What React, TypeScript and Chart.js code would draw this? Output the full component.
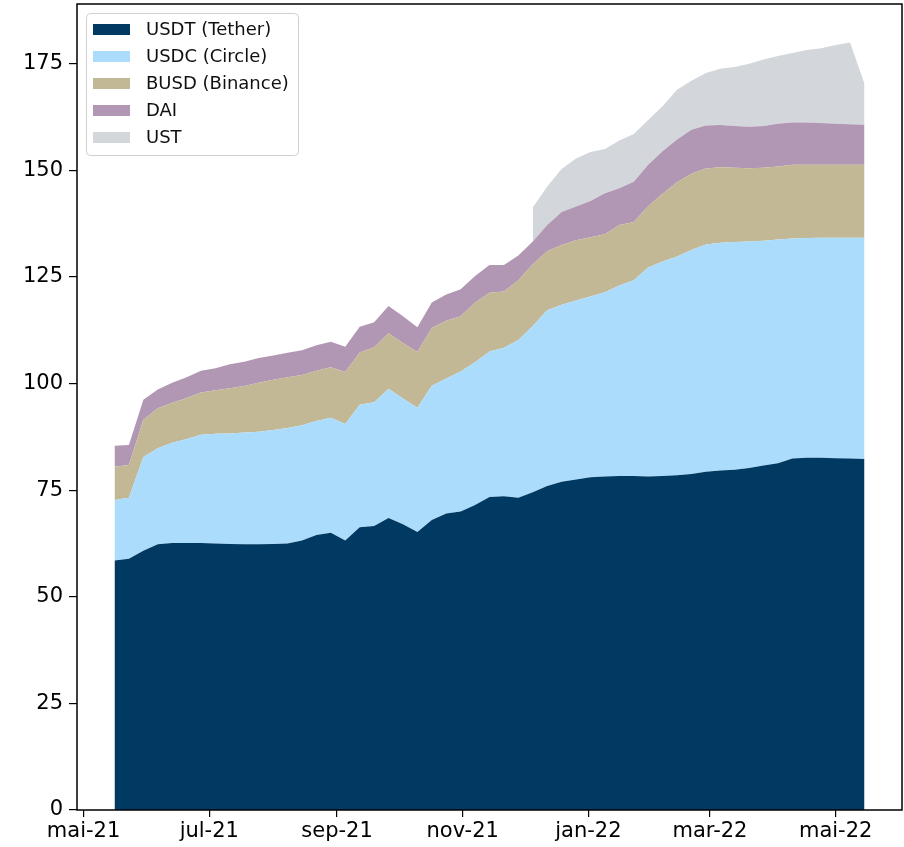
import React, { useEffect, useRef } from 'react';
import { Chart, registerables } from 'chart.js';

Chart.register(...registerables);

// Weekly observation dates
const dates = [
  '2021-05-16', '2021-05-23', '2021-05-30', '2021-06-06', '2021-06-13', '2021-06-20', '2021-06-27',
  '2021-07-04', '2021-07-11', '2021-07-18', '2021-07-25', '2021-08-01', '2021-08-08', '2021-08-15',
  '2021-08-22', '2021-08-29', '2021-09-05', '2021-09-12', '2021-09-19', '2021-09-26', '2021-10-03',
  '2021-10-10', '2021-10-17', '2021-10-24', '2021-10-31', '2021-11-07', '2021-11-14', '2021-11-21',
  '2021-11-28', '2021-12-05', '2021-12-12', '2021-12-19', '2021-12-26', '2022-01-02', '2022-01-09',
  '2022-01-16', '2022-01-23', '2022-01-30', '2022-02-06', '2022-02-13', '2022-02-20', '2022-02-27',
  '2022-03-06', '2022-03-13', '2022-03-20', '2022-03-27', '2022-04-03', '2022-04-10', '2022-04-17',
  '2022-04-24', '2022-05-01', '2022-05-08', '2022-05-15',
];

const usdt = [
  58.5, 58.9, 60.8, 62.3, 62.6, 62.6, 62.6, 62.5, 62.4, 62.3, 62.3, 62.4, 62.5,
  63.2, 64.5, 65.0, 63.2, 66.3, 66.6, 68.5, 67.0, 65.2, 68.0, 69.5, 70.0, 71.5, 73.4, 73.6, 73.2,
  74.5, 76.0, 77.0, 77.5, 78.0, 78.2, 78.3, 78.3, 78.2, 78.3, 78.5, 78.8, 79.3, 79.6, 79.8, 80.2,
  80.8, 81.3, 82.4, 82.6, 82.6, 82.5, 82.4, 82.3,
];

const usdc = [
  14.2, 14.3, 22.0, 22.5, 23.5, 24.4, 25.4, 25.7, 25.9, 26.2, 26.4, 26.7, 27.1,
  27.0, 26.7, 27.0, 27.3, 28.7, 29.0, 30.3, 29.5, 29.1, 31.5, 31.7, 32.8, 33.5, 34.1, 34.8, 37.0,
  39.0, 41.2, 41.5, 42.0, 42.4, 43.2, 44.7, 45.9, 49.0, 50.3, 51.3, 52.5, 53.3, 53.4, 53.4, 53.1,
  52.7, 52.5, 51.6, 51.5, 51.6, 51.7, 51.8, 51.9,
];

const busd = [
  7.8, 7.7, 8.7, 9.4, 9.4, 9.6, 9.9, 10.2, 10.6, 10.9, 11.5, 11.8, 11.9,
  11.8, 11.8, 11.8, 12.2, 12.3, 12.9, 13.0, 13.0, 13.1, 13.5, 13.5, 13.0, 14.0, 13.8, 13.2, 14.0,
  14.5, 13.8, 14.0, 14.1, 13.9, 13.6, 14.2, 13.7, 14.4, 15.9, 17.4, 17.9, 17.8, 17.7, 17.4, 17.2,
  17.1, 17.1, 17.3, 17.2, 17.1, 17.1, 17.1, 17.1,
];

const dai = [
  4.9, 4.7, 4.7, 4.4, 4.7, 4.9, 5.1, 5.2, 5.6, 5.7, 5.8, 5.7, 5.7,
  5.8, 6.0, 6.0, 5.9, 6.0, 5.9, 6.4, 6.3, 5.8, 6.0, 6.2, 6.3, 6.2, 6.5, 6.2, 5.8,
  5.3, 6.2, 7.7, 7.9, 8.5, 9.6, 8.6, 9.4, 9.7, 10.0, 10.0, 10.3, 10.1, 9.9, 9.8, 9.7,
  9.8, 10.0, 9.9, 9.9, 9.8, 9.6, 9.5, 9.4,
];

const ust = [
  null, null, null, null, null, null, null, null, null, null, null, null, null,
  null, null, null, null, null, null, null, null, null, null, null, null, null, null, null, null,
  8.0, 9.0, 10.1, 11.3, 11.5, 10.4, 11.2, 11.2, 10.5, 10.5, 11.7, 11.5, 12.3, 13.2, 13.8, 14.8,
  15.6, 15.9, 16.3, 17.0, 17.5, 18.5, 19.2, 9.6,
];

const seriesNames = ['USDT (Tether)', 'USDC (Circle)', 'BUSD (Binance)', 'DAI', 'UST'];
const seriesColors = ['#003a63', '#acdcfb', '#c3b896', '#b197b3', '#d3d7db'];

const tickDates = ['2021-05-01', '2021-07-01', '2021-09-01', '2021-11-01', '2022-01-01', '2022-03-01', '2022-05-01'];
const tickLabels = ['mai-21', 'jul-21', 'sep-21', 'nov-21', 'jan-22', 'mar-22', 'mai-22'];
const yTicks = [0, 25, 50, 75, 100, 125, 150, 175];

const FONT = 'DejaVu Sans';

const toDay = (s: string) => Date.parse(s) / 86400000;

const framePlugin = {
  id: 'frame',
  afterDraw(chart: any) {
    const { ctx, chartArea } = chart;
    ctx.save();
    ctx.strokeStyle = '#000';
    ctx.lineWidth = 1.5;
    ctx.strokeRect(chartArea.left, chartArea.top, chartArea.right - chartArea.left, chartArea.bottom - chartArea.top);
    ctx.restore();
  },
};

const legendPlugin = {
  id: 'innerLegend',
  afterDraw(chart: any) {
    const { ctx } = chart;
    const x = 86.5, y = 13.5, w = 212, h = 142, r = 4;
    ctx.save();
    ctx.beginPath();
    ctx.moveTo(x + r, y);
    ctx.lineTo(x + w - r, y);
    ctx.arcTo(x + w, y, x + w, y + r, r);
    ctx.lineTo(x + w, y + h - r);
    ctx.arcTo(x + w, y + h, x + w - r, y + h, r);
    ctx.lineTo(x + r, y + h);
    ctx.arcTo(x, y + h, x, y + h - r, r);
    ctx.lineTo(x, y + r);
    ctx.arcTo(x, y, x + r, y, r);
    ctx.closePath();
    ctx.fillStyle = 'rgba(255,255,255,0.85)';
    ctx.fill();
    ctx.strokeStyle = '#d0d0d0';
    ctx.lineWidth = 1;
    ctx.stroke();
    ctx.font = `18px "${FONT}"`;
    ctx.textBaseline = 'middle';
    ctx.textAlign = 'left';
    chart.data.datasets.forEach((ds: any, i: number) => {
      const cy = 29.5 + i * 27;
      ctx.fillStyle = ds.backgroundColor;
      ctx.fillRect(93, cy - 5.5, 37, 11);
      ctx.fillStyle = '#111';
      ctx.fillText(ds.label, 146, cy + 1);
    });
    ctx.restore();
  },
};

export default function App() {
  const ref = useRef<HTMLCanvasElement>(null);

  useEffect(() => {
    if (!ref.current) return;
    const days = dates.map(toDay);
    const first = days[0];
    const last = days[days.length - 1];
    const span = last - first;
    const all = [usdt, usdc, busd, dai, ust];

    const datasets = all.map((vals, i) => ({
      label: seriesNames[i],
      data: vals.map((v, j) => ({ x: days[j], y: v })),
      backgroundColor: seriesColors[i],
      borderColor: seriesColors[i],
      borderWidth: 0,
      pointRadius: 0,
      fill: i === 0 ? 'origin' : '-1',
      tension: 0,
      spanGaps: false,
    }));

    const chart = new Chart(ref.current, {
      type: 'line',
      data: { datasets },
      plugins: [framePlugin, legendPlugin],
      options: {
        responsive: false,
        animation: false,
        layout: { padding: { left: 0, top: 4, right: 2, bottom: 0 } },
        plugins: {
          legend: { display: false },
          tooltip: { enabled: false },
        },
        elements: { line: { borderWidth: 0 } },
        scales: {
          x: {
            type: 'linear',
            min: first - 0.05 * span,
            max: last + 0.05 * span,
            border: { display: false },
            grid: {
              display: true,
              drawOnChartArea: false,
              drawTicks: true,
              tickLength: 7,
              color: '#000',
              lineWidth: 1.2,
            },
            afterBuildTicks: (scale: any) => {
              scale.ticks = tickDates.map((d) => ({ value: toDay(d) }));
            },
            afterFit: (scale: any) => {
              scale.height = 37;
              scale.paddingLeft = 0;
              scale.paddingRight = 0;
            },
            ticks: {
              autoSkip: false,
              maxRotation: 0,
              padding: 2,
              color: '#000',
              font: { family: FONT, size: 21 },
              callback: (value: any) => {
                const idx = tickDates.findIndex((d) => Math.abs(toDay(d) - value) < 0.5);
                return idx >= 0 ? tickLabels[idx] : '';
              },
            },
          },
          y: {
            type: 'linear',
            stacked: true,
            min: 0,
            max: 189,
            border: { display: false },
            grid: {
              display: true,
              drawOnChartArea: false,
              drawTicks: true,
              tickLength: 8,
              color: '#000',
              lineWidth: 1.2,
            },
            afterBuildTicks: (scale: any) => {
              scale.ticks = yTicks.map((v) => ({ value: v }));
            },
            afterFit: (scale: any) => {
              scale.width = 77;
              scale.paddingTop = 0;
              scale.paddingBottom = 0;
            },
            ticks: {
              padding: 6,
              color: '#000',
              font: { family: FONT, size: 21 },
            },
          },
        },
      },
    } as any);

    return () => chart.destroy();
  }, []);

  return (
    <div style={{ position: 'fixed', left: 0, top: 0, width: 904, height: 847, background: '#fff' }}>
      <canvas ref={ref} width={904} height={847} style={{ display: 'block' }} />
    </div>
  );
}
